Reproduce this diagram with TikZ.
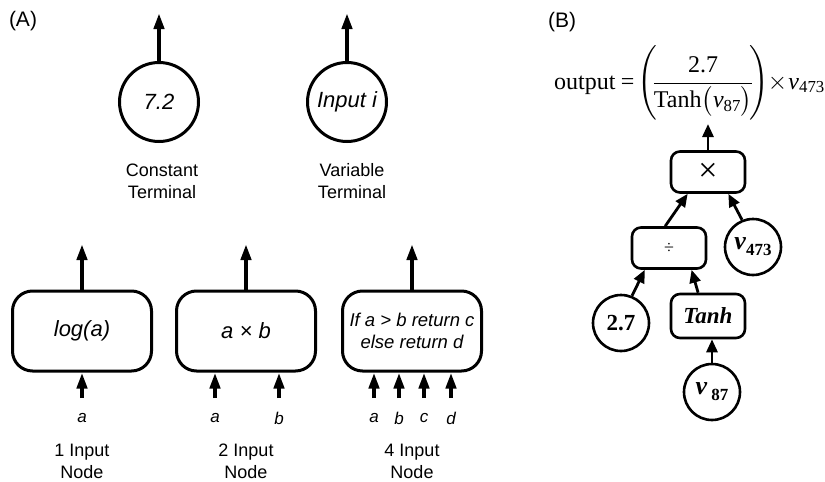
\documentclass[tikz,border=0pt]{standalone}
\usepackage{amsmath}
\usepackage{exscale}
\usepackage{fontspec}
\setmainfont{Liberation Serif}
\setsansfont{Liberation Sans}
\usetikzlibrary{arrows.meta}
\tikzset{
 arr/.style={line width=4pt, -{Triangle[length=16pt,width=10pt]}},
 tarr/.style={line width=2.8pt, -{Triangle[length=13pt,width=11pt]}},
 term/.style={circle, draw, line width=3pt, minimum size=79pt, inner sep=0pt, font=\sffamily\itshape\fontsize{22}{26}\selectfont},
 funcbox/.style={draw, rounded corners=20pt, line width=3pt, minimum width=139pt, minimum height=80pt, inner sep=0pt, align=center, font=\sffamily\itshape\fontsize{22}{26}\selectfont},
 lbl/.style={font=\sffamily\fontsize{18}{22}\selectfont, align=center, inner sep=0pt},
 panel/.style={font=\sffamily\fontsize{21}{24}\selectfont, inner sep=0pt},
 inlbl/.style={font=\sffamily\itshape\fontsize{17}{20}\selectfont, inner sep=0pt},
 tbox/.style={draw, rounded corners=9pt, line width=2.6pt, minimum width=74pt, minimum height=41pt, inner sep=0pt},
 tcirc/.style={circle, draw, line width=2.6pt, minimum size=56pt, inner sep=0pt, font=\bfseries\fontsize{23}{27}\selectfont},
}
\begin{document}
\begin{tikzpicture}[x=1pt,y=-1pt]
\useasboundingbox (0,0) rectangle (825,482);
% panel labels
\node[panel] (pA) at (23,21) {(A)};
\node[panel] (pB) at (562,22) {(B)};
% terminals
\node[term] (c1) at (159,102) {7.2};
\node[term] (c2) at (347,102) {Input i};
\coordinate (c1t) at (159,13);
\coordinate (c2t) at (347,13);
\draw[arr] (c1.north) -- (c1t);
\draw[arr] (c2.north) -- (c2t);
\node[lbl] (l1) at (162,181) {Constant\\Terminal};
\node[lbl] (l2) at (352,181) {Variable\\Terminal};
% function nodes
\node[funcbox] (b1) at (82,331) {log(a)};
\node[funcbox] (b2) at (246,331) {a × b};
\node[funcbox, font=\sffamily\itshape\fontsize{18.5}{22}\selectfont] (b3) at (412,331) {If a > b return c\\else return d};
\coordinate (b1t) at (82,244);
\coordinate (b2t) at (246,244);
\coordinate (b3t) at (412,244);
\draw[arr] (b1.north) -- (b1t);
\draw[arr] (b2.north) -- (b2t);
\draw[arr] (b3.north) -- (b3t);
% inputs
\foreach \nm/\x/\b/\t in {i1/82/b1/a, i2/215/b2/a, i3/279/b2/b, i4/374/b3/a, i5/399/b3/b, i6/424/b3/c, i7/451/b3/d}{
  \coordinate (\nm) at (\x,398);
  \draw[arr] (\nm) -- (\nm |- \b.south);
  \node[inlbl] (\nm l) at (\x,418) {\t};
}
\node[lbl] (n1) at (82,461) {1 Input\\Node};
\node[lbl] (n2) at (246,461) {2 Input\\Node};
\node[lbl] (n3) at (412,461) {4 Input\\Node};
% panel B formula
\node[font=\fontsize{24}{28}\selectfont, inner sep=0pt, anchor=west] (out) at (554,83) {output\hspace{0.22em}=\hspace{0.12em}$\left(\mkern-3mu\rule[-29pt]{0pt}{70pt}\dfrac{\text{2.7}}{\text{Tanh}\bigl(\text{\itshape v}_{\text{87}}\bigr)}\mkern-3mu\right)\mkern-4mu\mathord{\times}\mkern1mu\text{\itshape v}_{\text{473}}$};
\coordinate (outarr) at (708,124);
% tree
\node[tbox, font=\fontsize{34}{36}\selectfont] (mul) at (708,172) {×};
\node[tbox, font=\fontsize{18}{20}\selectfont] (div) at (669,248) {÷};
\node[tcirc] (v473) at (753,247) {\fontsize{26}{28}\selectfont\itshape v\raisebox{-6pt}{\upshape\fontsize{17}{17}\selectfont 473}};
\node[tcirc] (c27) at (621,323) {2.7};
\node[tbox, minimum height=44pt, font=\bfseries\itshape\fontsize{23}{27}\selectfont] (tanh) at (708,316) {Tanh};
\node[tcirc] (v87) at (712,392) {\fontsize{26}{28}\selectfont\itshape v\,\raisebox{-6pt}{\upshape\fontsize{17}{17}\selectfont 87}};
\draw[tarr] (mul.north) -- (outarr);
\draw[tarr] (div.100) -- (mul.227);
\draw[tarr] (v473.112) -- (mul.313);
\draw[tarr] (c27.68) -- (div.222);
\draw[tarr] (tanh.113) -- (div.316);
\draw[tarr] (v87.north) -- (v87.north |- tanh.south);
\end{tikzpicture}
\end{document}
